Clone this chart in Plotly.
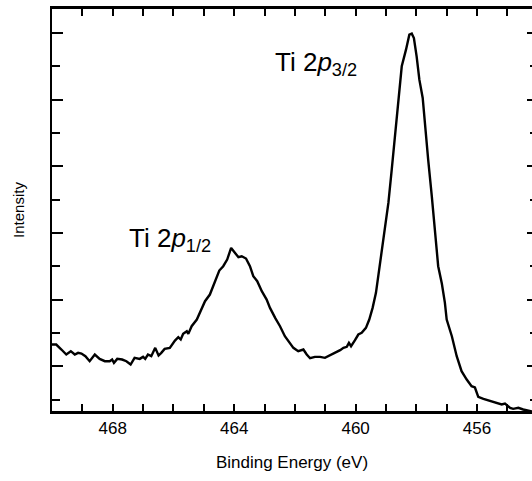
import plotly.graph_objects as go

# ---- data ----
binding_energy = [
    470.00, 469.86, 469.69, 469.53, 469.38, 469.25, 469.14, 469.03, 468.90, 468.76,
    468.59, 468.43, 468.26, 468.10, 468.02, 467.96, 467.85, 467.69, 467.55, 467.41,
    467.28, 467.11, 467.00, 466.93, 466.84, 466.73, 466.60, 466.49, 466.40, 466.29,
    466.12, 465.95, 465.84, 465.76, 465.68, 465.56, 465.51, 465.40, 465.23, 465.07,
    464.96, 464.80, 464.63, 464.49, 464.36, 464.23, 464.10, 463.97, 463.86, 463.75,
    463.61, 463.48, 463.37, 463.24, 463.09, 462.93, 462.82, 462.65, 462.49, 462.33,
    462.22, 462.05, 461.89, 461.72, 461.61, 461.50, 461.34, 461.17, 461.01, 460.84,
    460.68, 460.51, 460.40, 460.29, 460.22, 460.15, 460.02, 459.91, 459.80, 459.66,
    459.55, 459.44, 459.33, 459.25, 459.16, 459.03, 458.92, 458.81, 458.70, 458.63,
    458.54, 458.48, 458.34, 458.23, 458.15, 458.08, 457.99, 457.90, 457.79, 457.71,
    457.61, 457.49, 457.38, 457.28, 457.16, 457.06, 457.00, 456.83, 456.67, 456.51,
    456.34, 456.18, 456.07, 455.96, 455.79, 455.57, 455.35, 455.19, 455.08, 455.00,
    454.91, 454.81, 454.64, 454.48, 454.26, 454.19,
]
intensity = [
    2.65, 2.65, 2.50, 2.35, 2.45, 2.35, 2.40, 2.38, 2.30, 2.15,
    2.35, 2.22, 2.15, 2.15, 2.20, 2.10, 2.22, 2.20, 2.15, 2.05,
    2.25, 2.22, 2.28, 2.22, 2.35, 2.30, 2.55, 2.32, 2.40, 2.52,
    2.55, 2.77, 2.87, 2.80, 2.97, 3.05, 2.97, 3.20, 3.40, 3.70,
    3.95, 4.15, 4.55, 4.87, 5.00, 5.20, 5.55, 5.40, 5.27, 5.30,
    5.23, 5.00, 4.70, 4.55, 4.25, 4.00, 3.75, 3.45, 3.20, 2.90,
    2.77, 2.55, 2.45, 2.50, 2.35, 2.24, 2.28, 2.28, 2.25, 2.32,
    2.40, 2.48, 2.55, 2.58, 2.70, 2.60, 2.78, 2.95, 3.00, 3.15,
    3.40, 3.75, 4.20, 4.75, 5.26, 6.10, 6.90, 7.90, 9.00, 9.50,
    10.40, 11.00, 11.50, 11.95, 11.98, 11.85, 11.30, 10.60, 10.05, 9.10,
    8.20, 7.10, 6.00, 5.00, 4.48, 3.91, 3.40, 2.90, 2.30, 1.85,
    1.60, 1.40, 1.36, 1.08, 1.02, 0.95, 0.90, 0.85, 0.88, 0.82,
    0.75, 0.72, 0.75, 0.70, 0.65, 0.64,
]

x_range = [470, 454.19]
y_range = [0.625, 12.75]
# ticks every 1 eV; only every 4 eV carries a label
x_hidden_labels = ["470", "469", "467", "466", "465", "463", "462", "461",
                   "459", "458", "457", "455", "454"]

peak_labels = ["Ti 2<i>p</i><sub>3/2</sub>", "Ti 2<i>p</i><sub>1/2</sub>"]
peak_label_x = [462.71, 467.52]
peak_label_y = [11.08, 5.80]

FONT = "Liberation Sans, Arial, Helvetica, sans-serif"

fig = go.Figure()
fig.add_trace(go.Scatter(
    x=binding_energy, y=intensity, mode="lines",
    line=dict(color="black", width=2.4),
    showlegend=False, hoverinfo="skip",
))
# placeholder (draws nothing) so the top / right tick axes are built
fig.add_trace(go.Scatter(
    x=[x_range[0]], y=[None], xaxis="x2", yaxis="y2", mode="lines",
    showlegend=False, hoverinfo="skip",
))

common_x = dict(
    range=x_range, tickmode="linear", tick0=0, dtick=1,
    ticks="inside", ticklen=8, tickwidth=2, tickcolor="black",
    showgrid=False, zeroline=False, automargin=False,
    showline=True, linewidth=2, linecolor="black",
)
common_y = dict(
    range=y_range, tickmode="linear", tick0=0, dtick=2,
    ticks="inside", tickwidth=2, tickcolor="black", automargin=False,
    showgrid=False, zeroline=False, showticklabels=False,
)

fig.update_layout(
    width=532, height=481,
    margin=dict(l=52, r=0, t=8, b=69, pad=0),
    plot_bgcolor="white", paper_bgcolor="white",
    font=dict(family=FONT, color="black"),
    xaxis=dict(
        **common_x,
        labelalias={lab: "" for lab in x_hidden_labels},
        tickfont=dict(size=17, family=FONT),
        title=dict(text="Binding Energy (eV)", font=dict(size=17, family=FONT), standoff=19),
    ),
    xaxis2=dict(
        **common_x, overlaying="x", side="top", anchor="y2",
        showticklabels=False,
    ),
    yaxis=dict(
        **common_y, ticklen=11,
        minor=dict(tickmode="linear", tick0=0, dtick=1, ticks="inside",
                   ticklen=8, tickwidth=2, tickcolor="black", showgrid=False),
        showline=True, linewidth=2, linecolor="black",
        title=dict(text="Intensity", font=dict(size=15, family=FONT), standoff=22),
    ),
    yaxis2=dict(
        **common_y, overlaying="y", side="right", anchor="x2", ticklen=5,
        minor=dict(tickmode="linear", tick0=0, dtick=1, ticks="inside",
                   ticklen=2, tickwidth=2, tickcolor="black", showgrid=False),
        showline=False,
    ),
)

# top and bottom frame lines of the plot area
for yp in (0, 1):
    fig.add_shape(
        type="line", xref="paper", yref="paper", x0=0, x1=1, y0=yp, y1=yp,
        line=dict(color="black", width=2), layer="above",
    )

for txt, lx, ly in zip(peak_labels, peak_label_x, peak_label_y):
    fig.add_annotation(
        text=txt, x=lx, y=ly, xref="x", yref="y",
        xanchor="left", yanchor="middle", showarrow=False,
        font=dict(size=26, family=FONT, color="black"),
    )

fig.write_html(
    "out.html",
    config={"displayModeBar": False},
    post_script="document.body.style.margin='0';document.body.style.padding='0';",
)
